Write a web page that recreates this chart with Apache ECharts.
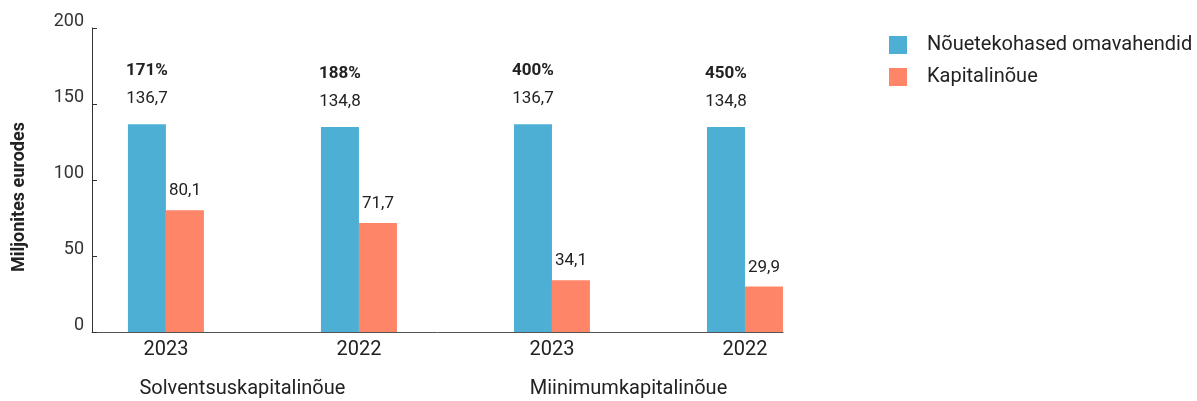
<!DOCTYPE html>
<html>
<head>
<meta charset="utf-8">
<script src="https://cdn.jsdelivr.net/npm/echarts@6/dist/echarts.min.js"></script>
<style>
  html, body { margin: 0; padding: 0; background: #fff; }
  #chart { width: 1197px; height: 401px; }
</style>
</head>
<body>
<div id="chart"></div>
<script>
// Own funds vs. capital requirement, in millions of euros
const years = ['2023', '2022', '2023', '2022'];
const groups = ['Solventsuskapitalinõue', 'Miinimumkapitalinõue'];
const ownFunds = [136.7, 134.8, 136.7, 134.8];
const requirement = [80.1, 71.7, 34.1, 29.9];
const coverage = ['171%', '188%', '400%', '450%'];
const yTicks = [0, 50, 100, 150, 200];

const seriesNames = ['Nõuetekohased omavahendid', 'Kapitalinõue'];
const colors = ['#4cafd3', '#ff8569'];
const font = 'Roboto, "Open Sans", sans-serif';
const textColor = '#222';

const fmt = v => v.toFixed(1).replace('.', ',');
const positions = years.map((_, i) => i);

const chart = echarts.init(document.getElementById('chart'), null, { renderer: 'canvas' });

const xMin = -0.383, xMax = 3.197;

chart.setOption({
  animation: false,
  textStyle: { fontFamily: font },
  color: colors,
  grid: { left: 92, right: 414, top: 28, bottom: 69, containLabel: false },
  legend: {
    orient: 'vertical',
    left: 889,
    top: 35,
    padding: 0,
    icon: 'rect',
    itemWidth: 18,
    itemHeight: 18,
    itemGap: 12,
    data: seriesNames,
    textStyle: { fontSize: 20, lineHeight: 20, color: textColor, padding: [0, 0, 0, 15], fontFamily: font }
  },
  xAxis: [
    {
      type: 'value',
      min: xMin,
      max: xMax,
      splitLine: { show: false },
      axisLine: { show: true, onZero: false, lineStyle: { color: '#555', width: 1 } },
      axisTick: { show: false },
      axisLabel: {
        customValues: positions,
        formatter: v => years[Math.round(v)] || '',
        fontSize: 20,
        lineHeight: 20,
        margin: 8,
        color: textColor,
        fontFamily: font
      }
    },
    {
      type: 'value',
      min: xMin,
      max: xMax,
      position: 'bottom',
      offset: 40,
      splitLine: { show: false },
      axisLine: { show: false, onZero: false },
      axisTick: { show: false },
      axisLabel: {
        customValues: groups.map((_, g) => g * 2 + 0.5),
        formatter: v => groups[Math.floor(v / 2)] || '',
        fontSize: 20,
        lineHeight: 20,
        margin: 7,
        padding: [0, 40, 0, 0],
        color: textColor,
        fontFamily: font
      }
    }
  ],
  yAxis: {
    type: 'value',
    min: 0,
    max: 200,
    interval: 50,
    name: 'Miljonites eurodes',
    nameLocation: 'middle',
    nameRotate: 90,
    nameGap: 64,
    nameTextStyle: { fontSize: 18, fontWeight: 'bold', color: textColor, padding: [0, 34, 0, 0], fontFamily: font },
    splitLine: { show: false },
    axisLine: { show: true, onZero: false, lineStyle: { color: '#333', width: 1 } },
    axisTick: { show: true, inside: true, length: 5, lineStyle: { color: '#333' } },
    axisLabel: {
      customValues: yTicks,
      fontSize: 18,
      lineHeight: 14,
      verticalAlign: 'bottom',
      margin: 8,
      color: '#333',
      fontFamily: font
    }
  },
  series: [
    {
      name: seriesNames[0],
      type: 'bar',
      barWidth: 38,
      barGap: '0%',
      data: ownFunds.map((v, i) => [positions[i], v]),
      itemStyle: { color: colors[0] },
      label: {
        show: true,
        position: 'top',
        distance: 16,
        formatter: p => `{p|${coverage[p.dataIndex]}}\n{v|${fmt(p.value[1])}}`,
        rich: {
          p: { fontSize: 17, fontWeight: 'bold', lineHeight: 38, color: textColor, fontFamily: font },
          v: { fontSize: 17, lineHeight: 18, color: textColor, fontFamily: font }
        }
      }
    },
    {
      name: seriesNames[1],
      type: 'bar',
      barWidth: 38,
      barGap: '0%',
      data: requirement.map((v, i) => [positions[i], v]),
      itemStyle: { color: colors[1] },
      label: {
        show: true,
        position: 'top',
        distance: 10,
        formatter: p => fmt(p.value[1]),
        fontSize: 17,
        lineHeight: 18,
        color: textColor,
        fontFamily: font
      }
    }
  ]
});
</script>
</body>
</html>
